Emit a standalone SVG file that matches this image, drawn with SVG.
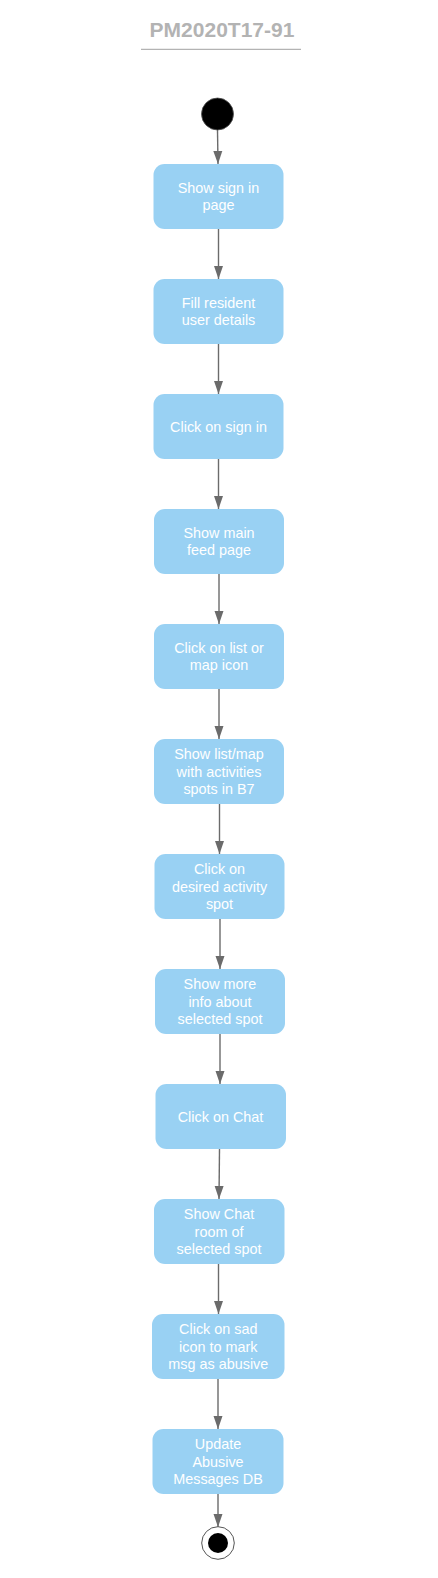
<svg xmlns="http://www.w3.org/2000/svg" width="438" height="1578" viewBox="0 0 438 1578">
<defs>
<style>
.n rect{fill:#99d1f3;stroke:none}
.n text{font-family:"Liberation Sans",Arial,sans-serif;font-size:14.4px;fill:#ffffff;text-anchor:middle}
.c line{stroke:#6b6b6b;stroke-width:1.4}
.title{font-family:"Liberation Sans",Arial,sans-serif;font-size:21px;font-weight:bold;fill:#b3b3b3;text-anchor:middle}
</style>
<marker id="a" markerUnits="userSpaceOnUse" markerWidth="13" markerHeight="10" refX="13" refY="5" orient="auto" viewBox="0 0 13 10">
<path d="M0,0.5 L13,5 L0,9.5 z" fill="#6b6b6b"/>
</marker>
</defs>
<rect width="438" height="1578" fill="#ffffff"/>
<g id="title">
<text class="title" x="222" y="37">PM2020T17-91</text>
<line x1="141" y1="49.3" x2="301" y2="49.3" stroke="#b3b3b3" stroke-width="1.2"/>
</g>
<g class="c" id="connectors">
<line x1="217.5" y1="130" x2="218" y2="164" marker-end="url(#a)"/>
<line x1="218.5" y1="229" x2="218.5" y2="279" marker-end="url(#a)"/>
<line x1="218.5" y1="344" x2="218.5" y2="394" marker-end="url(#a)"/>
<line x1="218.5" y1="459" x2="218.5" y2="509" marker-end="url(#a)"/>
<line x1="219" y1="574" x2="219" y2="624" marker-end="url(#a)"/>
<line x1="219" y1="689" x2="219" y2="739" marker-end="url(#a)"/>
<line x1="219.5" y1="804" x2="219.5" y2="854" marker-end="url(#a)"/>
<line x1="220" y1="919" x2="220" y2="969" marker-end="url(#a)"/>
<line x1="220" y1="1034" x2="220" y2="1084" marker-end="url(#a)"/>
<line x1="219.5" y1="1149" x2="219" y2="1199" marker-end="url(#a)"/>
<line x1="218.5" y1="1264" x2="218.5" y2="1314" marker-end="url(#a)"/>
<line x1="218" y1="1379" x2="218" y2="1429" marker-end="url(#a)"/>
<line x1="218" y1="1494" x2="218" y2="1527" marker-end="url(#a)"/>
</g>
<g id="start">
<circle cx="217.5" cy="114" r="16" fill="#000000" stroke="#555" stroke-width="0.8"/>
</g>
<g id="n1" class="n"><rect x="153.5" y="164" width="130" height="65" rx="11"/><text x="218.5" y="192.8">Show sign in</text><text x="218.5" y="210.1">page</text></g>
<g id="n2" class="n"><rect x="153.5" y="279" width="130" height="65" rx="11"/><text x="218.5" y="307.8">Fill resident</text><text x="218.5" y="325.1">user details</text></g>
<g id="n3" class="n"><rect x="153.5" y="394" width="130" height="65" rx="11"/><text x="218.5" y="431.5">Click on sign in</text></g>
<g id="n4" class="n"><rect x="154" y="509" width="130" height="65" rx="11"/><text x="219" y="537.8">Show main</text><text x="219" y="555.1">feed page</text></g>
<g id="n5" class="n"><rect x="154" y="624" width="130" height="65" rx="11"/><text x="219" y="652.8">Click on list or</text><text x="219" y="670.1">map icon</text></g>
<g id="n6" class="n"><rect x="154" y="739" width="130" height="65" rx="11"/><text x="219" y="759.2">Show list/map</text><text x="219" y="776.5">with activities</text><text x="219" y="793.8">spots in B7</text></g>
<g id="n7" class="n"><rect x="154.5" y="854" width="130" height="65" rx="11"/><text x="219.5" y="874.2">Click on</text><text x="219.5" y="891.5">desired activity</text><text x="219.5" y="908.8">spot</text></g>
<g id="n8" class="n"><rect x="155" y="969" width="130" height="65" rx="11"/><text x="220" y="989.2">Show more</text><text x="220" y="1006.5">info about</text><text x="220" y="1023.8">selected spot</text></g>
<g id="n9" class="n"><rect x="155.5" y="1084" width="130.5" height="65" rx="11"/><text x="220.5" y="1121.5">Click on Chat</text></g>
<g id="n10" class="n"><rect x="154" y="1199" width="130.5" height="65" rx="11"/><text x="219" y="1219.2">Show Chat</text><text x="219" y="1236.5">room of</text><text x="219" y="1253.8">selected spot</text></g>
<g id="n11" class="n"><rect x="152" y="1314" width="132.5" height="65" rx="11"/><text x="218.3" y="1334.2">Click on sad</text><text x="218.3" y="1351.5">icon to mark</text><text x="218.3" y="1368.8">msg as abusive</text></g>
<g id="n12" class="n"><rect x="152.5" y="1429" width="131" height="65" rx="11"/><text x="218" y="1449.2">Update</text><text x="218" y="1466.5">Abusive</text><text x="218" y="1483.8">Messages DB</text></g>
<g id="end">
<circle cx="218" cy="1543" r="16.3" fill="#ffffff" stroke="#555" stroke-width="1"/>
<circle cx="218" cy="1543" r="10" fill="#000000"/>
</g>
</svg>
